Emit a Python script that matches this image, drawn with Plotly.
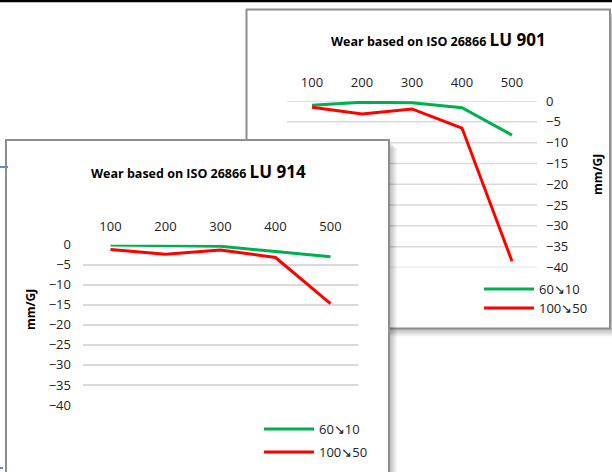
import plotly.graph_objects as go

# ---------------- data ----------------
categories = ["100", "200", "300", "400", "500"]
y_tick_values = [0, -5, -10, -15, -20, -25, -30, -35, -40]
series_names = ["60\u219810", "100\u219850"]

lu901_60_10 = [-1.0, -0.3, -0.4, -1.6, -8.2]
lu901_100_50 = [-1.5, -3.1, -1.9, -6.5, -38.5]

lu914_60_10 = [-0.1, -0.2, -0.4, -1.7, -3.0]
lu914_100_50 = [-1.2, -2.4, -1.3, -3.2, -14.7]

title_main = "Wear based on ISO 26866"
title_a = "LU 901"
title_b = "LU 914"
y_title = "mm/GJ"

# ---------------- layout helpers ----------------
W, H = 612, 472
def px(x):
    return x / W
def py(y):
    return 1 - y / H

GREEN = "#00B050"
RED = "#FF0000"
GRID = "#D9D9D9"
BORDER = "#8E8E8E"
TXT = "#222222"
FONT = "Open Sans"

fig = go.Figure()

# Panel A (LU 901) traces
fig.add_trace(go.Scatter(x=categories, y=lu901_60_10, xaxis="x", yaxis="y", mode="lines",
                         line=dict(color=GREEN, width=3), name=series_names[0], legend="legend"))
fig.add_trace(go.Scatter(x=categories, y=lu901_100_50, xaxis="x", yaxis="y", mode="lines",
                         line=dict(color=RED, width=3), name=series_names[1], legend="legend2"))
# Panel B (LU 914) traces
fig.add_trace(go.Scatter(x=categories, y=lu914_60_10, xaxis="x2", yaxis="y2", mode="lines",
                         line=dict(color=GREEN, width=3), name=series_names[0], legend="legend3"))
fig.add_trace(go.Scatter(x=categories, y=lu914_100_50, xaxis="x2", yaxis="y2", mode="lines",
                         line=dict(color=RED, width=3), name=series_names[1], legend="legend4"))

shapes = []

def panel(x0, y0, x1, y1):
    out = []
    for k in range(1, 9):
        out.append(dict(type="rect", xref="paper", yref="paper",
                        x0=px(x0 + k), x1=px(x1 + k), y0=py(y0 + k), y1=py(y1 + k),
                        fillcolor="rgba(0,0,0,0.035)", line=dict(width=0), layer="below"))
    out.append(dict(type="rect", xref="paper", yref="paper",
                    x0=px(x0), x1=px(x1), y0=py(y0), y1=py(y1),
                    fillcolor="white", line=dict(color=BORDER, width=2), layer="below"))
    return out

# Panel A box
shapes += panel(246.5, 9.5, 610, 328.5)
# Panel A gridlines (drawn under panel B)
for v in y_tick_values:
    shapes.append(dict(type="line", xref="paper", yref="y", x0=px(287), x1=px(537), y0=v, y1=v,
                       line=dict(color=GRID, width=1.5), layer="below"))
# Panel B box
shapes += panel(6, 140, 389, 495)
# top black rule
shapes.append(dict(type="line", xref="paper", yref="paper", x0=0, x1=1, y0=py(1), y1=py(1),
                   line=dict(color="black", width=2.5), layer="above"))
# stray blue marks at the left edge
shapes.append(dict(type="line", xref="paper", yref="paper", x0=0, x1=px(8), y0=py(167), y1=py(167),
                   line=dict(color="#5B8FD0", width=2), layer="above"))
shapes.append(dict(type="line", xref="paper", yref="paper", x0=0, x1=px(3), y0=py(468), y1=py(468),
                   line=dict(color="#5B8FD0", width=2), layer="above"))

annotations = [
    dict(xref="paper", yref="paper", x=px(438), y=py(39), xanchor="center", yanchor="middle",
         showarrow=False,
         text="<b>%s <span style='font-size:17px'>%s</span></b>" % (title_main, title_a),
         font=dict(size=12.5, color="black", family=FONT)),
    dict(xref="paper", yref="paper", x=px(198), y=py(172), xanchor="center", yanchor="middle",
         showarrow=False,
         text="<b>%s <span style='font-size:17px'>%s</span></b>" % (title_main, title_b),
         font=dict(size=12.5, color="black", family=FONT)),
    dict(xref="paper", yref="paper", x=px(597), y=py(175), xanchor="center", yanchor="middle",
         showarrow=False, textangle=-90,
         text="<b>%s</b>" % y_title, font=dict(size=12, color="black", family=FONT)),
    dict(xref="paper", yref="paper", x=px(30), y=py(310), xanchor="center", yanchor="middle",
         showarrow=False, textangle=-90,
         text="<b>%s</b>" % y_title, font=dict(size=12, color="black", family=FONT)),
]

tickfont = dict(size=13, color=TXT, family=FONT)

def leg(x, y):
    return dict(x=px(x), y=py(y), xanchor="left", yanchor="middle", bgcolor="rgba(0,0,0,0)",
                borderwidth=0, font=dict(size=13, color=TXT, family=FONT), itemwidth=50)

fig.update_layout(
    width=W, height=H, margin=dict(l=0, r=0, t=0, b=0), autosize=False,
    paper_bgcolor="white", plot_bgcolor="rgba(0,0,0,0)",
    font=dict(family=FONT, color=TXT),
    showlegend=True,
    xaxis=dict(domain=[px(287), px(537)], anchor="y", side="top", type="category",
               range=[-0.5, 4.5], showgrid=False, zeroline=False, showline=False, ticks="",
               tickfont=tickfont, ticklabelstandoff=10, automargin=False),
    yaxis=dict(domain=[py(267.5), py(101)], anchor="x", side="right", range=[-40, 0],
               tickvals=y_tick_values, showgrid=False, zeroline=False, showline=False, ticks="",
               tickfont=tickfont, ticklabelstandoff=8, automargin=False),
    xaxis2=dict(domain=[px(83), px(358)], anchor="y2", side="top", type="category",
                range=[-0.5, 4.5], showgrid=False, zeroline=False, showline=False, ticks="",
                tickfont=tickfont, ticklabelstandoff=10, automargin=False),
    yaxis2=dict(domain=[py(405), py(244.7)], anchor="x2", side="left", range=[-40, 0],
                tickvals=y_tick_values, showgrid=True, gridcolor=GRID, gridwidth=1.5,
                zeroline=False, showline=False, ticks="",
                tickfont=tickfont, ticklabelstandoff=11, automargin=False),
    legend=leg(479, 289),
    legend2=leg(479, 308),
    legend3=leg(259, 429),
    legend4=leg(259, 452),
    shapes=shapes,
    annotations=annotations,
)

fig.write_html("out.html", config={"displayModeBar": False},
               post_script="document.body.style.margin='0px';document.body.style.overflow='hidden';")
